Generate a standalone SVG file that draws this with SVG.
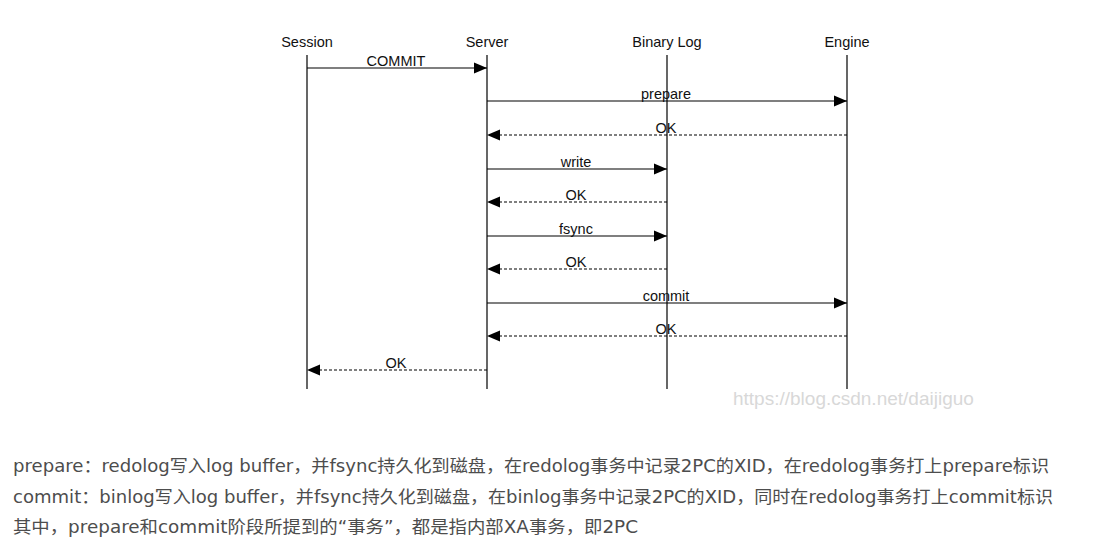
<svg xmlns="http://www.w3.org/2000/svg" width="1093" height="550" viewBox="0 0 1093 550">
<defs>
<marker id="ah" markerWidth="13" markerHeight="13" viewBox="0 0 13 13" refX="13" refY="6.5" orient="auto" markerUnits="userSpaceOnUse">
<path d="M0,1 L13,6.5 L0,12 Z" fill="#000"/>
</marker>
<style>
.hd{font-family:"Liberation Sans",Arial,sans-serif;font-size:14.5px;fill:#111;text-anchor:middle}
.lb{font-family:"Liberation Sans",Arial,sans-serif;font-size:14.5px;fill:#111;text-anchor:middle}
.life{stroke:#000;stroke-width:1.2}
.msg{stroke:#000;stroke-width:1.2;fill:none;marker-end:url(#ah)}
.ret{stroke:#000;stroke-width:1.2;fill:none;stroke-dasharray:3,2;marker-end:url(#ah)}
.para{font-family:"DejaVu Sans","Noto Sans CJK SC",sans-serif;font-size:17px;fill:#4d4d4d}
.wm{font-family:"Liberation Sans",Arial,sans-serif;font-size:19px;fill:#d8d8d8}
</style>
</defs>
<rect width="1093" height="550" fill="#fff"/>
<g id="session"><text class="hd" x="307" y="47">Session</text><line class="life" x1="307" y1="55" x2="307" y2="389"/></g>
<g id="server"><text class="hd" x="487" y="47">Server</text><line class="life" x1="487" y1="55" x2="487" y2="389"/></g>
<g id="binlog"><text class="hd" x="667" y="47">Binary Log</text><line class="life" x1="667" y1="55" x2="667" y2="389"/></g>
<g id="engine"><text class="hd" x="847" y="47">Engine</text><line class="life" x1="847" y1="55" x2="847" y2="389"/></g>
<g id="connectors">
<line class="msg" x1="307" y1="68" x2="487" y2="68"/><text class="lb" x="396" y="66">COMMIT</text>
<line class="msg" x1="487" y1="101" x2="847" y2="101"/><text class="lb" x="666" y="99">prepare</text>
<line class="ret" x1="847" y1="135" x2="487" y2="135"/><text class="lb" x="666" y="133">OK</text>
<line class="msg" x1="487" y1="169" x2="667" y2="169"/><text class="lb" x="576" y="167">write</text>
<line class="ret" x1="667" y1="202" x2="487" y2="202"/><text class="lb" x="576" y="200">OK</text>
<line class="msg" x1="487" y1="236" x2="667" y2="236"/><text class="lb" x="576" y="234">fsync</text>
<line class="ret" x1="667" y1="269" x2="487" y2="269"/><text class="lb" x="576" y="267">OK</text>
<line class="msg" x1="487" y1="303" x2="847" y2="303"/><text class="lb" x="666" y="301">commit</text>
<line class="ret" x1="847" y1="336" x2="487" y2="336"/><text class="lb" x="666" y="334">OK</text>
<line class="ret" x1="487" y1="370" x2="307" y2="370"/><text class="lb" x="396" y="368">OK</text>
</g>
<text class="wm" x="733" y="405">https://blog.csdn.net/daijiguo</text>
<text class="para" x="13" y="472" textLength="1036" lengthAdjust="spacingAndGlyphs">prepare：redolog写入log buffer，并fsync持久化到磁盘，在redolog事务中记录2PC的XID，在redolog事务打上prepare标识</text>
<text class="para" x="13" y="503" textLength="1040" lengthAdjust="spacingAndGlyphs">commit：binlog写入log buffer，并fsync持久化到磁盘，在binlog事务中记录2PC的XID，同时在redolog事务打上commit标识</text>
<text class="para" x="13" y="533" textLength="625" lengthAdjust="spacingAndGlyphs">其中，prepare和commit阶段所提到的“事务”，都是指内部XA事务，即2PC</text>
</svg>
